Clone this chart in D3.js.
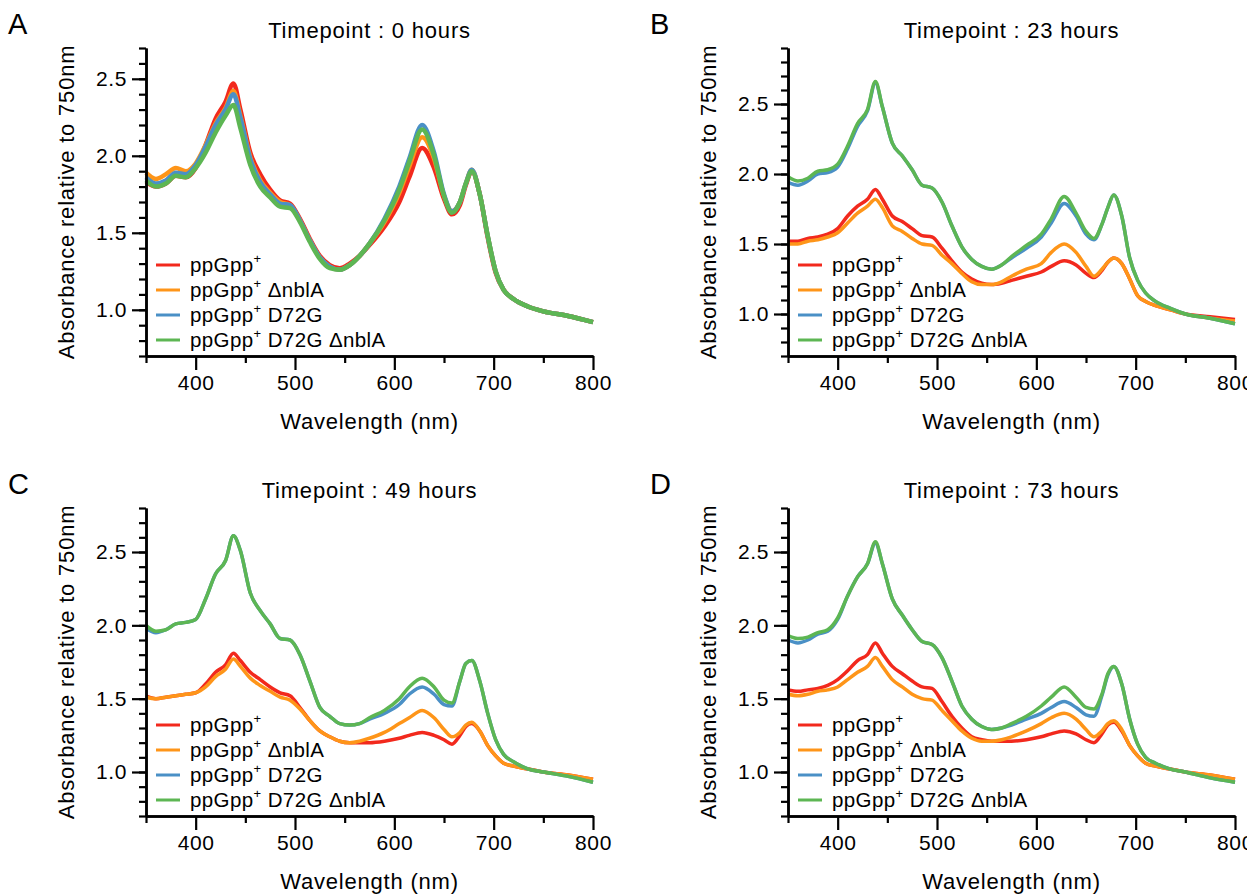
<!DOCTYPE html>
<html>
<head>
<meta charset="utf-8">
<script src="https://cdn.jsdelivr.net/npm/d3@7"></script>
<style>
  body { margin: 0; background: #fff; }
  text { font-family: "Liberation Sans", Arial, Helvetica, sans-serif; fill: #000; }
</style>
</head>
<body>
<div id="chart"></div>
<script>
// wavelengths (nm) shared by every spectrum
const wavelengths = [350,360,370,380,390,400,410,420,430,438,445,455,465,475,485,495,505,515,525,535,545,555,565,575,590,605,615,628,640,650,658,666,672,678,686,694,702,710,720,735,750,775,800];

const panelLetters = ["A", "B", "C", "D"];
const panelTitles = ["Timepoint : 0 hours", "Timepoint : 23 hours", "Timepoint : 49 hours", "Timepoint : 73 hours"];
const yMaxes = [2.7, 2.9, 2.8, 2.8];
const yMajorTicks = [1.0, 1.5, 2.0, 2.5];
const xMajorTicks = [400, 500, 600, 700, 800];
const seriesNames = ["", " \u0394nblA", " D72G", " D72G \u0394nblA"];

// 0 hours
const t0_wt    = [1.83,1.80,1.82,1.87,1.86,1.92,2.07,2.24,2.35,2.47,2.30,2.02,1.88,1.78,1.71,1.69,1.59,1.46,1.35,1.29,1.27,1.30,1.35,1.42,1.54,1.70,1.86,2.05,1.92,1.72,1.62,1.68,1.81,1.90,1.75,1.47,1.24,1.13,1.07,1.02,0.99,0.96,0.92];
const t0_nblA  = [1.89,1.85,1.88,1.92,1.90,1.95,2.07,2.21,2.31,2.42,2.26,1.99,1.84,1.76,1.70,1.68,1.58,1.45,1.34,1.28,1.26,1.29,1.35,1.43,1.57,1.76,1.93,2.12,1.98,1.74,1.64,1.70,1.82,1.91,1.75,1.48,1.25,1.13,1.07,1.02,0.99,0.96,0.92];
const t0_D72G  = [1.86,1.82,1.84,1.89,1.88,1.94,2.06,2.20,2.30,2.40,2.25,1.98,1.83,1.75,1.69,1.68,1.58,1.45,1.34,1.28,1.26,1.29,1.35,1.43,1.59,1.80,1.98,2.20,2.02,1.75,1.64,1.70,1.82,1.91,1.75,1.48,1.25,1.13,1.07,1.02,0.99,0.96,0.92];
const t0_D72G_nblA = [1.84,1.80,1.82,1.87,1.86,1.92,2.02,2.15,2.26,2.33,2.18,1.94,1.80,1.73,1.67,1.66,1.57,1.44,1.33,1.27,1.26,1.29,1.35,1.43,1.58,1.78,1.96,2.17,2.00,1.74,1.63,1.70,1.82,1.90,1.75,1.48,1.25,1.13,1.07,1.02,0.99,0.96,0.92];

// 23 hours
const t23_wt   = [1.52,1.52,1.54,1.55,1.57,1.61,1.70,1.77,1.82,1.89,1.82,1.70,1.66,1.61,1.56,1.55,1.47,1.38,1.30,1.25,1.22,1.21,1.22,1.24,1.27,1.30,1.34,1.38,1.35,1.29,1.26,1.31,1.37,1.40,1.36,1.25,1.13,1.09,1.06,1.03,1.00,0.98,0.96];
const t23_nblA = [1.50,1.50,1.52,1.53,1.55,1.58,1.65,1.72,1.77,1.82,1.76,1.63,1.59,1.54,1.50,1.49,1.42,1.36,1.29,1.23,1.21,1.21,1.23,1.27,1.32,1.36,1.44,1.50,1.44,1.34,1.27,1.32,1.37,1.40,1.36,1.25,1.13,1.09,1.06,1.03,1.00,0.97,0.95];
const t23_D72G = [1.94,1.92,1.95,2.00,2.01,2.05,2.18,2.34,2.45,2.65,2.48,2.22,2.13,2.03,1.92,1.90,1.80,1.63,1.48,1.39,1.34,1.32,1.35,1.40,1.47,1.55,1.65,1.79,1.70,1.57,1.53,1.64,1.76,1.85,1.70,1.40,1.24,1.15,1.09,1.04,1.00,0.97,0.93];
const t23_D72G_nblA = [1.98,1.95,1.97,2.02,2.03,2.07,2.20,2.36,2.46,2.66,2.48,2.22,2.13,2.03,1.92,1.90,1.80,1.63,1.48,1.39,1.34,1.32,1.35,1.41,1.49,1.57,1.68,1.84,1.72,1.59,1.54,1.64,1.76,1.85,1.70,1.40,1.24,1.15,1.09,1.04,1.00,0.97,0.93];

// 49 hours
const t49_wt   = [1.52,1.50,1.51,1.52,1.53,1.54,1.60,1.68,1.73,1.81,1.76,1.68,1.63,1.58,1.54,1.52,1.44,1.35,1.28,1.24,1.21,1.20,1.20,1.20,1.21,1.23,1.25,1.27,1.25,1.22,1.19,1.25,1.31,1.33,1.28,1.18,1.11,1.06,1.04,1.02,1.00,0.98,0.95];
const t49_nblA = [1.51,1.50,1.51,1.52,1.53,1.54,1.58,1.65,1.70,1.77,1.72,1.64,1.59,1.55,1.51,1.49,1.43,1.35,1.28,1.24,1.21,1.20,1.21,1.23,1.27,1.33,1.37,1.42,1.37,1.29,1.24,1.27,1.32,1.34,1.28,1.18,1.11,1.06,1.04,1.02,1.00,0.98,0.95];
const t49_D72G = [1.98,1.95,1.97,2.01,2.02,2.04,2.18,2.35,2.44,2.61,2.51,2.22,2.10,2.01,1.91,1.90,1.80,1.62,1.44,1.38,1.33,1.32,1.33,1.36,1.40,1.46,1.53,1.58,1.53,1.46,1.45,1.62,1.74,1.76,1.62,1.40,1.22,1.12,1.07,1.02,1.00,0.97,0.93];
const t49_D72G_nblA = [2.00,1.96,1.97,2.01,2.02,2.04,2.18,2.35,2.44,2.61,2.51,2.22,2.10,2.01,1.91,1.90,1.80,1.62,1.44,1.38,1.33,1.32,1.33,1.37,1.42,1.50,1.58,1.64,1.58,1.49,1.47,1.62,1.74,1.76,1.62,1.40,1.22,1.12,1.07,1.02,1.00,0.97,0.93];

// 73 hours
const t73_wt   = [1.56,1.55,1.56,1.57,1.59,1.63,1.69,1.76,1.80,1.88,1.81,1.72,1.67,1.62,1.58,1.57,1.48,1.38,1.30,1.24,1.22,1.21,1.21,1.21,1.22,1.24,1.26,1.28,1.26,1.22,1.20,1.26,1.32,1.34,1.28,1.18,1.11,1.06,1.04,1.02,1.00,0.98,0.95];
const t73_nblA = [1.53,1.52,1.53,1.55,1.56,1.58,1.63,1.68,1.72,1.78,1.72,1.63,1.58,1.53,1.50,1.49,1.42,1.35,1.28,1.23,1.21,1.21,1.22,1.24,1.28,1.33,1.37,1.40,1.36,1.29,1.24,1.28,1.33,1.35,1.29,1.18,1.11,1.06,1.04,1.02,1.00,0.98,0.95];
const t73_D72G = [1.90,1.88,1.90,1.94,1.96,2.04,2.20,2.33,2.42,2.56,2.42,2.18,2.07,1.97,1.89,1.87,1.78,1.62,1.45,1.36,1.31,1.29,1.30,1.32,1.36,1.40,1.44,1.48,1.44,1.39,1.38,1.52,1.66,1.72,1.60,1.36,1.19,1.10,1.06,1.02,1.00,0.96,0.93];
const t73_D72G_nblA = [1.93,1.91,1.92,1.95,1.97,2.05,2.20,2.33,2.42,2.57,2.42,2.18,2.07,1.97,1.89,1.87,1.78,1.62,1.45,1.36,1.31,1.29,1.30,1.33,1.38,1.45,1.51,1.58,1.51,1.44,1.43,1.53,1.67,1.72,1.60,1.36,1.19,1.10,1.06,1.02,1.00,0.96,0.93];

const panelSeries = [
  [t0_wt, t0_nblA, t0_D72G, t0_D72G_nblA],
  [t23_wt, t23_nblA, t23_D72G, t23_D72G_nblA],
  [t49_wt, t49_nblA, t49_D72G, t49_D72G_nblA],
  [t73_wt, t73_nblA, t73_D72G, t73_D72G_nblA]
];

const colors = ["#f2291d", "#fe9519", "#4a90c6", "#5db653"];

const svgW = 1247, svgH = 894;
const offX = [0, 642, 0, 642], offY = [0, 0, 460, 460];
const mLeft = 146, mTop = 48, plotW = 447, plotH = 308;

const svg = d3.select("#chart")
    .append("svg")
    .attr("width", svgW)
    .attr("height", svgH);

panelTitles.forEach((title, i) => {
    const g = svg.append("g")
        .attr("transform", `translate(${offX[i]},${offY[i]})`);

    const x = d3.scaleLinear().domain([350, 800]).range([mLeft, mLeft + plotW]);
    const y = d3.scaleLinear().domain([0.7, yMaxes[i]]).range([mTop + plotH, mTop]);

    // spectra
    const line = d3.line()
        .x((d, k) => x(wavelengths[k]))
        .y(d => y(d))
        .curve(d3.curveMonotoneX);

    g.selectAll(".spec")
        .data(panelSeries[i])
        .enter()
        .append("path")
        .attr("d", line)
        .attr("fill", "none")
        .attr("stroke", (d, k) => colors[k])
        .attr("stroke-width", i === 0 ? 4.5 : 3.5)
        .attr("stroke-linejoin", "round");

    // axes: minor + major ticks
    const yMinor = d3.range(0.7, yMaxes[i] + 0.001, 0.1);
    g.append("g")
        .attr("class", "axis")
        .attr("transform", `translate(${mLeft},0)`)
        .call(d3.axisLeft(y).tickValues(yMinor).tickSize(7).tickSizeOuter(0).tickFormat(""));
    g.append("g")
        .attr("class", "axis")
        .attr("transform", `translate(${mLeft},0)`)
        .call(d3.axisLeft(y).tickValues(yMajorTicks).tickSize(14).tickSizeOuter(0).tickPadding(5).tickFormat(d3.format(".1f")));

    g.append("g")
        .attr("class", "axis")
        .attr("transform", `translate(0,${mTop + plotH})`)
        .call(d3.axisBottom(x).tickValues([350, 450, 550, 650, 750]).tickSize(7).tickSizeOuter(0).tickFormat(""));
    g.append("g")
        .attr("class", "axis")
        .attr("transform", `translate(0,${mTop + plotH})`)
        .call(d3.axisBottom(x).tickValues(xMajorTicks).tickSize(14).tickSizeOuter(0).tickPadding(5).tickFormat(d3.format("d")));

    g.selectAll(".axis path").attr("stroke", "#000").attr("stroke-width", 2.5);
    g.selectAll(".axis line").attr("stroke", "#000").attr("stroke-width", 2.2);
    g.selectAll(".axis text")
        .attr("font-family", null)
        .style("font-size", "21px")
        .style("letter-spacing", "0.6px");

    // titles
    g.append("text")
        .attr("x", mLeft + plotW / 2)
        .attr("y", 38)
        .attr("text-anchor", "middle")
        .style("font-size", "22px")
        .style("letter-spacing", "0.8px")
        .text(title);

    g.append("text")
        .attr("x", 8)
        .attr("y", 34)
        .style("font-size", "29px")
        .text(panelLetters[i]);

    g.append("text")
        .attr("x", mLeft + plotW / 2)
        .attr("y", 429)
        .attr("text-anchor", "middle")
        .style("font-size", "22px")
        .style("letter-spacing", "0.8px")
        .text("Wavelength (nm)");

    g.append("text")
        .attr("transform", `translate(74,${mTop + plotH / 2}) rotate(-90)`)
        .attr("text-anchor", "middle")
        .style("font-size", "22px")
        .style("letter-spacing", "0.8px")
        .text("Absorbance relative to 750nm");

    // legend
    seriesNames.forEach((name, k) => {
        const ly = mTop + 217 + k * 25;
        g.append("line")
            .attr("x1", 156).attr("x2", 180)
            .attr("y1", ly).attr("y2", ly)
            .attr("stroke", colors[k])
            .attr("stroke-width", 3);
        const t = g.append("text")
            .attr("x", 190)
            .attr("y", ly + 7)
            .style("font-size", "20.5px")
            .style("letter-spacing", "0.4px");
        t.append("tspan").text("ppGpp");
        t.append("tspan").attr("dy", -9).style("font-size", "13px").text("+");
        t.append("tspan").attr("dy", 9).text(name);
    });
});
</script>
</body>
</html>
